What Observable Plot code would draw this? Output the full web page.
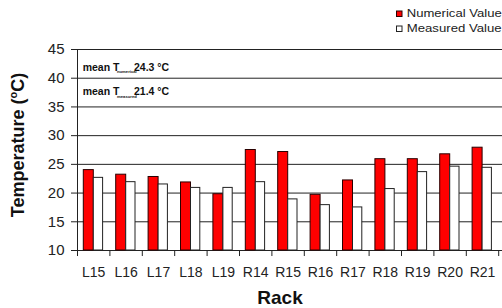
<!DOCTYPE html>
<html>
<head>
<meta charset="utf-8">
<script src="https://cdn.jsdelivr.net/npm/d3@7"></script>
<script src="https://cdn.jsdelivr.net/npm/@observablehq/plot@0.6"></script>
<style>
  html, body { margin: 0; padding: 0; background: #fff; }
  #chart { position: relative; width: 502px; height: 308px; overflow: hidden; }
</style>
</head>
<body>
<div id="chart"></div>
<script>
const racks = ["L15","L16","L17","L18","L19","R14","R15","R16","R17","R18","R19","R20","R21"];
const numerical = [24.0, 23.2, 22.8, 21.85, 19.8, 27.5, 27.15, 19.7, 22.2, 25.9, 25.9, 26.75, 27.9];
const measured = [22.65, 21.9, 21.5, 20.9, 20.9, 21.9, 18.9, 17.9, 17.5, 20.7, 23.65, 24.6, 24.4];
const yTicks = [10, 15, 20, 25, 30, 35, 40, 45];
const gridLines = [15, 20, 25, 30, 35, 40, 45];
const seriesNames = ["Numerical Value", "Measured Value"];
const meanNumerical = 24.3;
const meanMeasured = 21.4;

const rows = racks.map((r, i) => ({rack: r, num: numerical[i], meas: measured[i]}));
const font = "'Liberation Sans', Arial, sans-serif";
const xRange = [77, 498.2];
const bw = (xRange[1] - xRange[0]) / racks.length;

const chart = Plot.plot({
  width: 502,
  height: 308,
  marginLeft: 77,
  marginRight: 0,
  marginTop: 49,
  marginBottom: 58,
  style: {fontFamily: font, background: "transparent", color: "#222"},
  x: {domain: racks, range: xRange, padding: 0, round: false},
  y: {domain: [10, 45]},
  marks: [
    Plot.ruleY(gridLines, {stroke: "#222", strokeWidth: 1}),
    Plot.ruleY([10], {stroke: "#222", strokeWidth: 1}),
    Plot.frame({anchor: "left", stroke: "#222"}),
    Plot.barY(rows, {x: "rack", y1: 10, y2: "num", fill: "#ff0000", stroke: "#2a0000", strokeWidth: 1, insetLeft: 6.3, insetRight: 16.1}),
    Plot.barY(rows, {x: "rack", y1: 10, y2: "meas", fill: "#ffffff", stroke: "#222", strokeWidth: 1, insetLeft: 16.3, insetRight: 6.8}),
    Plot.ruleX(racks, {x: d => d, y1: 10, y2: 8.95, dx: -bw / 2, stroke: "#222"}),
    Plot.ruleX([racks[racks.length - 1]], {x: d => d, y1: 10, y2: 8.95, dx: bw / 2, stroke: "#222"}),
    Plot.axisY({ticks: yTicks, tickSize: 6, tickPadding: 7, fontSize: 15, label: null, stroke: "#222"}),
    Plot.axisX({tickSize: 0, tickPadding: 17, fontSize: 14, label: null})
  ]
});

document.getElementById("chart").appendChild(chart);
const svg = d3.select(chart);

// Y axis title
const yt = svg.append("text")
  .attr("transform", "translate(24,145) rotate(-90)")
  .attr("text-anchor", "middle")
  .attr("font-family", font)
  .attr("font-weight", "bold")
  .attr("font-size", 18)
  .attr("fill", "#111");
yt.append("tspan").text("Temperature (");
yt.append("tspan").attr("font-size", 11).attr("dy", -7).text("o");
yt.append("tspan").attr("dy", 7).text("C)");

// X axis title
svg.append("text")
  .attr("x", 280).attr("y", 304)
  .attr("text-anchor", "middle")
  .attr("font-family", font)
  .attr("font-weight", "bold")
  .attr("font-size", 19)
  .attr("fill", "#111")
  .text("Rack");

// Mean annotations (main text, subscript, value as separate texts)
function meanLabel(y, sub, val) {
  const base = {family: font, weight: "bold", fill: "#111"};
  svg.append("text")
    .attr("x", 82.7).attr("y", y)
    .attr("text-anchor", "start")
    .attr("font-family", font).attr("font-weight", "bold")
    .attr("font-size", 10.5).attr("fill", "#111")
    .text("mean T");
  svg.append("text")
    .attr("x", 117).attr("y", y + 2.5)
    .attr("text-anchor", "start")
    .attr("font-family", font).attr("font-weight", "bold")
    .attr("font-size", 4.2).attr("fill", "#111")
    .text(sub);
  svg.append("text")
    .attr("x", 134).attr("y", y)
    .attr("text-anchor", "start")
    .attr("font-family", font).attr("font-weight", "bold")
    .attr("font-size", 10.5).attr("fill", "#111")
    .text(val + " \u00B0C");
}
meanLabel(70.7, "numerical", meanNumerical);
meanLabel(95, "measured", meanMeasured);

// Legend
const legend = [
  {name: seriesNames[0], fill: "#ff0000", stroke: "#2a0000", y: 11},
  {name: seriesNames[1], fill: "#ffffff", stroke: "#222", y: 26}
];
legend.forEach(l => {
  svg.append("rect")
    .attr("x", 396.5).attr("y", l.y).attr("width", 5.5).attr("height", 5.5)
    .attr("fill", l.fill).attr("stroke", l.stroke).attr("stroke-width", 1);
  svg.append("text")
    .attr("x", 406.7).attr("y", l.y + 6)
    .attr("text-anchor", "start")
    .attr("font-family", font)
    .attr("font-size", 11)
    .attr("fill", "#222")
    .attr("textLength", 95).attr("lengthAdjust", "spacingAndGlyphs")
    .text(l.name);
});
</script>
</body>
</html>
